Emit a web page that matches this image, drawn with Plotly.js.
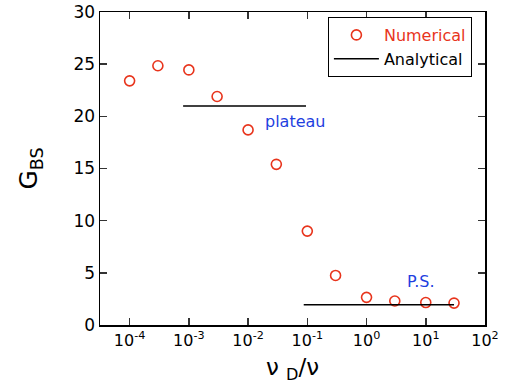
<!DOCTYPE html>
<html><head><meta charset="utf-8">
<script src="https://cdn.plot.ly/plotly-3.0.1.min.js"></script>
<style>body{margin:0;background:#fff}#c{width:512px;height:392px}</style>
</head><body><div id="c"></div>
<script>
const numX = [1e-4, 3e-4, 1e-3, 3e-3, 1e-2, 3e-2, 1e-1, 3e-1, 1, 3, 10, 30];
const numY = [23.4, 24.85, 24.45, 21.9, 18.7, 15.4, 9.0, 4.75, 2.65, 2.3, 2.15, 2.1];
const plateauX = [0.0008, 0.095];
const plateauY = [21.0, 21.0];
const psX = [0.087, 30];
const psY = [1.95, 1.95];
const yTicks = [0, 5, 10, 15, 20, 25, 30];
const xTicks = [1e-4, 1e-3, 1e-2, 1e-1, 1, 10, 100];
const xTickText = ['10<sup>-4</sup>','10<sup>-3</sup>','10<sup>-2</sup>','10<sup>-1</sup>','10<sup>0</sup>','10<sup>1</sup>','10<sup>2</sup>'];

const red = '#e8341c';
const blue = '#1f3fe0';
const font = 'DejaVu Sans, sans-serif';
const traces = [
  {x: numX, y: numY, mode: 'markers', type: 'scatter', name: '<span style="color:' + red + '">Numerical</span>',
   marker: {symbol: 'circle-open', size: 10, color: red, line: {width: 1.6, color: red}}},
  {x: plateauX, y: plateauY, mode: 'lines', type: 'scatter', name: 'Analytical',
   line: {color: '#000', width: 1.5}, legendgroup: 'a'},
  {x: psX, y: psY, mode: 'lines', type: 'scatter', name: 'Analytical', showlegend: false,
   line: {color: '#000', width: 1.5}, legendgroup: 'a'}
];
const layout = {
  width: 512, height: 392,
  margin: {l: 100, r: 27, t: 12, b: 67},
  paper_bgcolor: '#fff', plot_bgcolor: '#fff',
  font: {family: font, size: 15, color: '#000'},
  showlegend: true,
  legend: {x: 0.966, y: 0.984, xanchor: 'right', yanchor: 'top', bgcolor: '#fff',
           bordercolor: '#000', borderwidth: 1, font: {size: 16}, tracegroupgap: 0,
           itemwidth: 45},
  xaxis: {type: 'log', range: [-4.5, 2], tickvals: xTicks, ticktext: xTickText,
          ticks: 'inside', ticklen: 7, tickwidth: 1.5, tickcolor: '#333',
          showline: true, linecolor: '#000', linewidth: 1.5, mirror: 'ticks',
          showgrid: false, zeroline: false,
          tickfont: {size: 16},
          title: {text: 'ν <sub>D</sub>/ν', font: {size: 23}, standoff: 10}},
  yaxis: {range: [0, 30], tickvals: yTicks,
          ticks: 'inside', ticklen: 7, tickwidth: 1.5, tickcolor: '#333',
          showline: true, linecolor: '#000', linewidth: 1.5, mirror: 'ticks',
          showgrid: false, zeroline: false,
          tickfont: {size: 17},
          title: {text: 'G<sub>BS</sub>', font: {size: 25}, standoff: 28}},
  annotations: [
    {x: Math.log10(0.0178), y: 19.5, xref: 'x', yref: 'y', text: 'plateau', showarrow: false,
     xanchor: 'left', font: {color: blue, size: 16}},
    {x: Math.log10(4.5), y: 4.15, xref: 'x', yref: 'y', text: 'P.S.', showarrow: false,
     xanchor: 'left', font: {color: blue, size: 16}}
  ]
};
Plotly.newPlot('c', traces, layout, {displayModeBar: false, staticPlot: true});
</script></body></html>
